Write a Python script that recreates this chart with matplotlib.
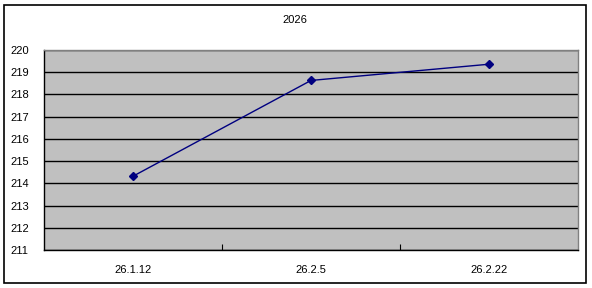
import matplotlib.pyplot as plt
from matplotlib.patches import Rectangle

# data
title = '2026'
dates = ['26.1.12', '26.2.5', '26.2.22']
values = [214.32, 218.63, 219.36]
y_ticks = list(range(211, 221))

plt.rcParams['font.family'] = ['Liberation Sans', 'DejaVu Sans']

W, H = 592, 288
fig = plt.figure(figsize=(W / 100, H / 100), dpi=100)

# outer chart border
fig.patches.append(Rectangle((4 / W, 1 - 283 / H), 582 / W, 278 / H,
                             transform=fig.transFigure, fill=False,
                             edgecolor='black', linewidth=1.2))

# plot area: x 44..578, y 50..250 (pixels)
ax = fig.add_axes([44 / W, 1 - 250 / H, 534 / W, 200 / H])
ax.set_facecolor('#c0c0c0')

x = list(range(len(dates)))
ax.plot(x, values, color='#000080', linewidth=1, marker='D', markersize=4,
        markerfacecolor='#000080', markeredgecolor='#000080', zorder=3)

ax.set_xlim(-0.5, len(dates) - 0.5)
ax.set_ylim(211, 220)
ax.set_yticks(y_ticks)
ax.set_yticklabels([str(v) for v in y_ticks], fontsize=8)
ax.set_xticks(x)
ax.set_xticklabels(dates, fontsize=8)
ax.tick_params(axis='x', length=0, pad=11)
ax.tick_params(axis='y', length=0, pad=11)

# category boundary ticks pointing up from the x axis
ax.set_xticks([0.5, 1.5], minor=True)
ax.tick_params(axis='x', which='minor', direction='in', length=4, width=0.8)

ax.grid(axis='y', color='black', linewidth=1)
ax.set_axisbelow(True)

for side in ['left', 'bottom']:
    ax.spines[side].set_color('black')
    ax.spines[side].set_linewidth(1)
for side in ['top', 'right']:
    ax.spines[side].set_color('#808080')
    ax.spines[side].set_linewidth(1)

fig.text(295 / W, 1 - 20 / H, title, ha='center', va='center', fontsize=8)

fig.savefig('out.png', dpi=100)
